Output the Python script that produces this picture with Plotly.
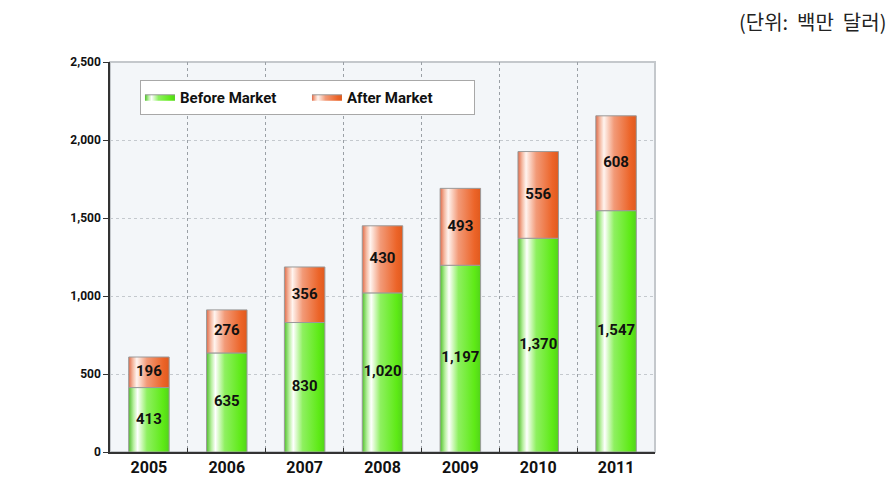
import plotly.graph_objects as go

years = ["2005", "2006", "2007", "2008", "2009", "2010", "2011"]
before_market = [413, 635, 830, 1020, 1197, 1370, 1547]
after_market = [196, 276, 356, 430, 493, 556, 608]
y_ticks = [0, 500, 1000, 1500, 2000, 2500]
y_tick_labels = ["0", "500", "1,000", "1,500", "2,000", "2,500"]

HALF = 0.26
green_scale = [[0.0, "#4fbf2a"], [0.12, "#b8f0a0"], [0.22, "#ffffff"],
               [0.45, "#8ef060"], [0.85, "#5eea16"], [1.0, "#52d41a"]]
orange_scale = [[0.0, "#e06a48"], [0.1, "#f4b8a0"], [0.2, "#fff4ef"],
                [0.45, "#f29a78"], [0.85, "#ec6428"], [1.0, "#e05a1e"]]

FONT = "Roboto, Liberation Sans, sans-serif"

fig = go.Figure()

def add_segments(values, bases, name, scale):
    for i, (v, b) in enumerate(zip(values, bases)):
        x0, x1 = i - HALF, i + HALF
        fig.add_trace(go.Scatter(
            x=[x0, x1, x1, x0, x0],
            y=[b, b, b + v, b + v, b],
            mode="lines", fill="toself",
            fillgradient=dict(type="horizontal", colorscale=scale, start=x0, stop=x1),
            line=dict(color="#9a9a9a", width=1),
            name=name, legendgroup=name, showlegend=(i == 0),
            hoverinfo="skip",
        ))

zeros = [0] * len(years)
add_segments(before_market, zeros, "Before Market", green_scale)
add_segments(after_market, before_market, "After Market", orange_scale)

# value labels
fig.add_trace(go.Scatter(
    x=list(range(len(years))) * 2,
    y=[b / 2 for b in before_market] + [b + a / 2 for b, a in zip(before_market, after_market)],
    text=[f"{v:,}" for v in before_market] + [f"{v:,}" for v in after_market],
    mode="text", textfont=dict(family=FONT, size=15, color="#111", weight="bold"),
    showlegend=False, hoverinfo="skip",
))

# light border (top/right)
fig.add_shape(type="rect", xref="paper", yref="paper", x0=0, y0=0, x1=1, y1=1,
              line=dict(color="#c4c8cc", width=2), layer="below")

fig.update_layout(
    width=889, height=488,
    margin=dict(l=110, r=234, t=62, b=36),
    paper_bgcolor="white", plot_bgcolor="#f3f6f9",
    showlegend=True,
    legend=dict(orientation="h", x=0.055, y=0.955, xanchor="left", yanchor="top",
                bgcolor="white", bordercolor="#a8a8a8", borderwidth=1,
                font=dict(family=FONT, size=15, color="#111", weight="bold"),
                itemwidth=30, entrywidth=122, tracegroupgap=0),
    xaxis=dict(range=[-0.5, 6.5], tickmode="array", tickvals=list(range(len(years))),
               ticktext=years, showgrid=False, zeroline=False,
               showline=True, linecolor="#333", linewidth=1.5,
               ticks="", tickfont=dict(family=FONT, size=16, color="#111", weight="bold"),
               minor=dict(tickvals=[i + 0.5 for i in range(len(years) - 1)], showgrid=True,
                          gridcolor="#9aa0a6", griddash="dot", gridwidth=1,
                          ticks="inside", ticklen=4, tickcolor="#333")),
    yaxis=dict(range=[0, 2500], tickmode="array", tickvals=y_ticks, ticktext=y_tick_labels,
               showgrid=True, gridcolor="#c4c9ce", griddash="dot", gridwidth=1,
               zeroline=False, showline=True, linecolor="#333", linewidth=1.5,
               ticks="outside", ticklen=5, tickcolor="#333",
               tickfont=dict(family=FONT, size=12, color="#111", weight="bold")),
    font=dict(family=FONT),
)

fig.add_annotation(text="(단위:  백만  달러)", xref="paper", yref="paper",
                   x=1.427, y=1.105, xanchor="right", yanchor="middle", showarrow=False,
                   font=dict(family="Noto Sans CJK KR", size=20, color="#222"))

fig.write_html("out.html")
